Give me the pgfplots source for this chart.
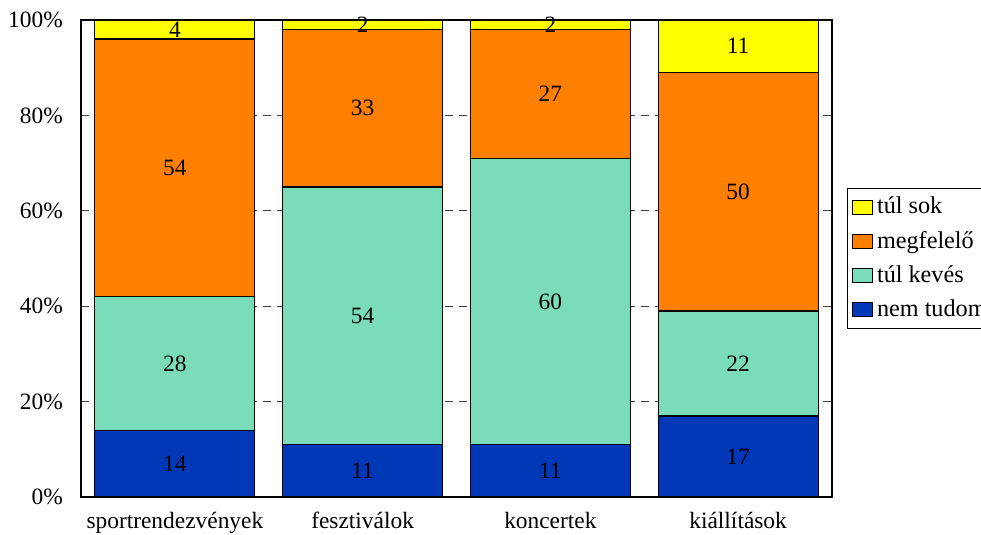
\documentclass[border=0pt]{standalone}
\usepackage{fontspec}
\setmainfont{Liberation Serif}
\usepackage{pgfplots}
\pgfplotsset{compat=1.18}
\usetikzlibrary{calc}

\definecolor{cSok}{RGB}{255,255,0}
\definecolor{cMeg}{RGB}{255,128,0}
\definecolor{cKev}{RGB}{122,220,185}
\definecolor{cNem}{RGB}{0,56,184}

\begin{document}
\fontsize{11.7}{14}\selectfont
\begin{tikzpicture}
\pgfplotsset{common/.style={
    scale only axis, width=375.5pt, height=238.5pt,
    xmin=-0.5, xmax=3.5, ymin=0, ymax=100}}
\begin{axis}[common, name=ax,
    ybar stacked, bar width=80pt,
    axis line style={line width=0.7pt},
    tick style={draw=none},
    xtick={0,1,2,3},
    xticklabels={sportrendezvények, fesztiválok, koncertek, kiállítások},
    xticklabel style={yshift=-3.5pt},
    ytick={0,20,40,60,80,100},
    yticklabel={\pgfmathprintnumber{\tick}\%},
    yticklabel style={xshift=-5pt},
    /pgf/number format/assume math mode=true,
    ymajorgrids, grid style={dash pattern=on 4pt off 3pt, black!75, line width=0.5pt},
    legend image code/.code={\draw[#1, draw=black, line width=0.5pt] (0pt,-3.5pt) rectangle (10pt,3.5pt);},
    reverse legend,
    legend cell align=left,
    legend style={at={(1.02,0.5)}, anchor=west, draw=black, line width=0.6pt,
        row sep=2.5pt, inner xsep=2pt, inner ysep=2pt,
        font=\fontsize{12.1}{14.5}\selectfont,
        nodes={inner sep=2.2pt}},
    every axis plot/.append style={draw=black, line width=0.6pt},
  ]
  \addplot[fill=cNem] coordinates {(0,14) (1,11) (2,11) (3,17)};
  \addlegendentry{nem tudom}
  \addplot[fill=cKev] coordinates {(0,28) (1,54) (2,60) (3,22)};
  \addlegendentry{túl kevés}
  \addplot[fill=cMeg] coordinates {(0,54) (1,33) (2,27) (3,50)};
  \addlegendentry{megfelelő}
  \addplot[fill=cSok] coordinates {(0,4) (1,2) (2,2) (3,11)};
  \addlegendentry{túl sok}
\end{axis}
\begin{axis}[common, hide axis,
    nodes near coords, point meta=explicit symbolic,
    every node near coord/.append style={anchor=center, inner sep=0pt}]
  \addplot[only marks, mark=none] coordinates {
    (0,7) [14] (0,28) [28] (0,69) [54] (0,98) [4]
    (1,5.5) [11] (1,38) [54] (1,81.5) [33] (1,99) [2]
    (2,5.5) [11] (2,41) [60] (2,84.5) [27] (2,99) [2]
    (3,8.5) [17] (3,28) [22] (3,64) [50] (3,94.5) [11]
  };
\end{axis}
\pgfresetboundingbox
\path[use as bounding box] ($(ax.south west)+(-40.5pt,-18.5pt)$) rectangle ($(ax.north east)+(74.5pt,10pt)$);
\end{tikzpicture}
\end{document}
